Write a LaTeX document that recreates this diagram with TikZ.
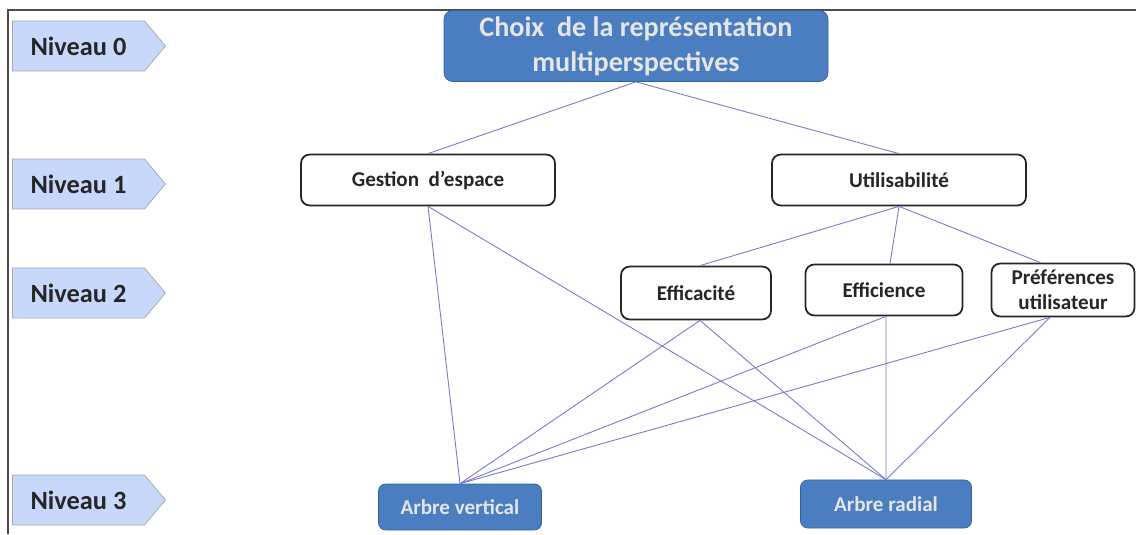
\documentclass[tikz,border=0pt]{standalone}
\usepackage{fontspec}
\setmainfont{Carlito}
\usetikzlibrary{shapes.symbols}

\definecolor{boxblue}{RGB}{74,126,193}
\definecolor{boxblueline}{RGB}{52,98,160}
\definecolor{linkblue}{RGB}{120,120,200}
\definecolor{levelfill}{RGB}{200,216,250}

\begin{document}
\begin{tikzpicture}[
  level/.style={signal, signal to=east, signal pointer angle=100, draw=gray!70,
                fill=levelfill, minimum width=3.06cm, minimum height=1.0cm,
                font=\fontsize{15}{17}\selectfont\bfseries, text=black!85,
                inner xsep=1pt, inner ysep=2pt},
  root/.style={rectangle, rounded corners=5pt, draw=boxblueline, fill=boxblue,
               text=white!90!black, font=\fontsize{16}{20}\selectfont\bfseries, align=center},
  crit/.style={rectangle, rounded corners=5pt, draw=black!85, line width=1pt, fill=white,
               font=\fontsize{12}{14}\selectfont\bfseries, text=black!85, align=center},
  leaf/.style={rectangle, rounded corners=4pt, draw=boxblueline, fill=boxblue,
               text=white!90!black, font=\fontsize{12}{14}\selectfont\bfseries, align=center},
  link/.style={draw=linkblue, line width=0.5pt}
]
  \useasboundingbox (0,0) rectangle (22.72,10.68);

  % ===== Frame =====
  \draw[gray!60!black, line width=0.6pt] (0.16,0) -- (0.16,10.48) -- (22.72,10.48);

  % ===== Level markers =====
  \node[level] (n0) at (1.57,9.76) {Niveau 0};
  \node[level] (n1) at (1.57,7.00) {Niveau 1};
  \node[level] (n2) at (1.57,4.82) {Niveau 2};
  \node[level] (n3) at (1.57,0.68) {Niveau 3};

  % ===== Level 0 =====
  \node[root, minimum width=7.68cm, minimum height=1.36cm] (choix) at (12.72,9.76)
       {Choix~ de la représentation\\multiperspectives};

  % ===== Level 1 =====
  \node[crit, minimum width=5.08cm, minimum height=1.02cm] (espace) at (8.56,7.08) {Gestion~ d’espace};
  \node[crit, minimum width=5.08cm, minimum height=1.02cm] (util) at (17.98,7.08) {Utilisabilité};

  % ===== Level 2 =====
  \node[crit, minimum width=3.0cm, minimum height=1.06cm] (effica) at (13.92,4.82) {Efficacité};
  \node[crit, minimum width=3.14cm, minimum height=1.02cm] (effici) at (17.68,4.88) {Efficience};
  \node[crit, minimum width=2.86cm, minimum height=1.06cm, inner sep=1pt] (pref) at (21.26,4.88)
       {Préférences\\utilisateur};

  % ===== Level 3 =====
  \node[leaf, minimum width=3.26cm, minimum height=0.92cm] (vert) at (9.20,0.54) {Arbre vertical};
  \node[leaf, minimum width=3.42cm, minimum height=0.96cm] (radial) at (17.72,0.60) {Arbre radial};

  % ===== Links 0 -> 1 =====
  \draw[link] (choix.south) -- (espace.north);
  \draw[link] (choix.south) -- (util.north);

  % ===== Links 1 -> 2 =====
  \draw[link] (util.south) -- ([xshift=0.08cm]effica.north);
  \draw[link] (util.south) -- ([xshift=0.12cm]effici.north);
  \draw[link] (util.south) -- ([xshift=-0.45cm]pref.north);

  % ===== Links to level 3 =====
  \foreach \src/\dx in {espace/0, effica/0.08, effici/0.04, pref/-0.26} {
    \draw[link] ([xshift=\dx cm]\src.south) -- (vert.north);
    \draw[link] ([xshift=\dx cm]\src.south) -- (radial.north);
  }
\end{tikzpicture}
\end{document}
